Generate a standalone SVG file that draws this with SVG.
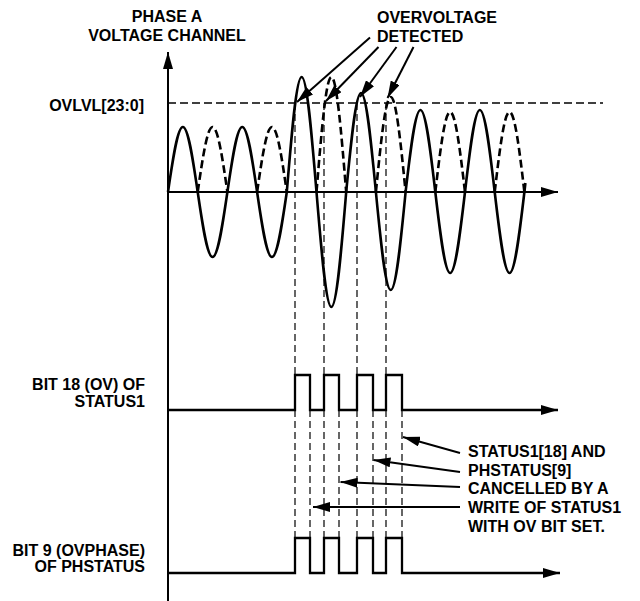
<svg xmlns="http://www.w3.org/2000/svg" width="640" height="601" viewBox="0 0 640 601">
<style>
  text { font-family: "Liberation Sans", Arial, sans-serif; font-weight: bold; font-size: 16px; fill: #000; }
  .axis { stroke: #000; stroke-width: 2; fill: none; }
  .wave { stroke: #000; stroke-width: 2.6; fill: none; stroke-linejoin: round; }
  .wdash { stroke: #000; stroke-width: 2.6; fill: none; stroke-dasharray: 8 4; }
  .thr { stroke: #000; stroke-width: 1.3; fill: none; stroke-dasharray: 8 4; }
  .guide { stroke: #000; stroke-width: 1.2; fill: none; stroke-dasharray: 7 4; }
  .pulse { stroke: #000; stroke-width: 2.3; fill: none; }
  .ptr { stroke: #000; stroke-width: 2; fill: none; }
</style>
<defs>
  <marker id="arr" viewBox="0 0 17 10" markerWidth="17" markerHeight="10" refX="17" refY="5" orient="auto" markerUnits="userSpaceOnUse">
    <path d="M0,0 L17,5 L0,10 z" fill="#000"/>
  </marker>
</defs>

<g id="axes">
  <line class="axis" x1="168" y1="601" x2="168" y2="52" marker-end="url(#arr)"/>
  <line class="axis" x1="168" y1="192" x2="558" y2="192" marker-end="url(#arr)"/>
</g>

<g id="threshold">
  <line class="thr" x1="168" y1="103" x2="603" y2="103"/>
</g>

<g id="waveform">
  <path class="wave" d="M168,192 C172.843,158.7 177.476,127 182.85,127 C188.224,127 192.857,158.7 197.7,192
  C202.543,225.3 207.176,257 212.55,257 C217.924,257 222.557,225.3 227.4,192
  C232.243,158.7 236.876,127 242.25,127 C247.624,127 252.257,158.7 257.1,192
  C261.943,225.3 266.576,257 271.95,257 C277.324,257 281.957,225.3 286.8,192
  C291.643,133.1 296.276,77 301.65,77 C307.024,77 311.657,133.1 316.5,192
  C321.343,250.9 325.976,307 331.35,307 C336.724,307 341.357,250.9 346.2,192
  C351.043,141.3 355.676,93 361.05,93 C366.424,93 371.057,141.3 375.9,192
  C380.743,242.2 385.376,290 390.75,290 C396.124,290 400.757,242.2 405.6,192
  C410.443,150 415.076,110 420.45,110 C425.824,110 430.457,150 435.3,192
  C440.143,233.5 444.776,273 450.15,273 C455.524,273 460.157,233.5 465,192
  C469.843,150 474.476,110 479.85,110 C485.224,110 489.857,150 494.7,192
  C499.543,233.5 504.176,273 509.55,273 C514.924,273 519.557,233.5 524.4,192 L525.4,183"/>
  <path class="wdash" d="M197.7,192 C202.543,158.7 207.176,127 212.55,127 C217.924,127 222.557,158.7 227.4,192
  M257.1,192 C261.943,158.7 266.576,127 271.95,127 C277.324,127 281.957,158.7 286.8,192
  M316.5,192 C321.343,133.1 325.976,77 331.35,77 C336.724,77 341.357,133.1 346.2,192
  M375.9,192 C380.743,143.3 385.376,97 390.75,97 C396.124,97 400.757,143.3 405.6,192
  M435.3,192 C440.143,151 444.776,112 450.15,112 C455.524,112 460.157,151 465,192
  M494.7,192 C499.543,151 504.176,112 509.55,112 C514.924,112 519.557,151 524.4,192"/>
</g>

<g id="guides">
  <path class="guide" d="M295,103 V375 M324,103 V375 M357,103 V375 M386,103 V375
  M295,410 V538 M310,410 V538 M324,410 V538 M339,410 V538
  M357,410 V538 M373,410 V538 M386,410 V538 M402,410 V538"/>
</g>

<g id="ov-bit">
  <path class="pulse" d="M168,410 H295 V375 H310 V410 H324 V375 H339 V410 H357 V375 H373 V410 H386 V375 H402 V410 H558" marker-end="url(#arr)"/>
</g>

<g id="ovphase-bit">
  <path class="pulse" d="M168,573 H295 V538 H310 V573 H324 V538 H339 V573 H357 V538 H373 V573 H386 V538 H402 V573 H560" marker-end="url(#arr)"/>
</g>

<g id="connectors">
  <line class="ptr" x1="370" y1="37.5" x2="297" y2="102" marker-end="url(#arr)"/>
  <line class="ptr" x1="378.5" y1="47" x2="326" y2="101" marker-end="url(#arr)"/>
  <line class="ptr" x1="396.5" y1="47" x2="360" y2="97" marker-end="url(#arr)"/>
  <line class="ptr" x1="413.5" y1="47" x2="387.5" y2="98" marker-end="url(#arr)"/>
  <line class="ptr" x1="460" y1="453" x2="403" y2="437" marker-end="url(#arr)"/>
  <line class="ptr" x1="460" y1="472" x2="373.5" y2="460" marker-end="url(#arr)"/>
  <line class="ptr" x1="460" y1="487" x2="340.5" y2="482" marker-end="url(#arr)"/>
  <line class="ptr" x1="460" y1="507" x2="313" y2="507" marker-end="url(#arr)"/>
</g>

<g id="label-phase">
  <text x="167" y="21.7" text-anchor="middle">PHASE A</text>
  <text x="167" y="40.7" text-anchor="middle">VOLTAGE CHANNEL</text>
</g>
<g id="label-detected">
  <text x="377" y="23.3">OVERVOLTAGE</text>
  <text x="377" y="42.3">DETECTED</text>
</g>
<g id="label-ovlvl">
  <text x="144" y="110.7" text-anchor="end">OVLVL[23:0]</text>
</g>
<g id="label-ov">
  <text x="145" y="390" text-anchor="end">BIT 18 (OV) OF</text>
  <text x="145" y="406.5" text-anchor="end">STATUS1</text>
</g>
<g id="label-ovphase">
  <text x="145" y="555.5" text-anchor="end">BIT 9 (OVPHASE)</text>
  <text x="145" y="572" text-anchor="end">OF PHSTATUS</text>
</g>
<g id="label-cancel">
  <text x="468" y="457.3">STATUS1[18] AND</text>
  <text x="468" y="475.7">PHSTATUS[9]</text>
  <text x="468" y="494">CANCELLED BY A</text>
  <text x="468" y="513.2">WRITE OF STATUS1</text>
  <text x="468" y="532.3">WITH OV BIT SET.</text>
</g>
</svg>
